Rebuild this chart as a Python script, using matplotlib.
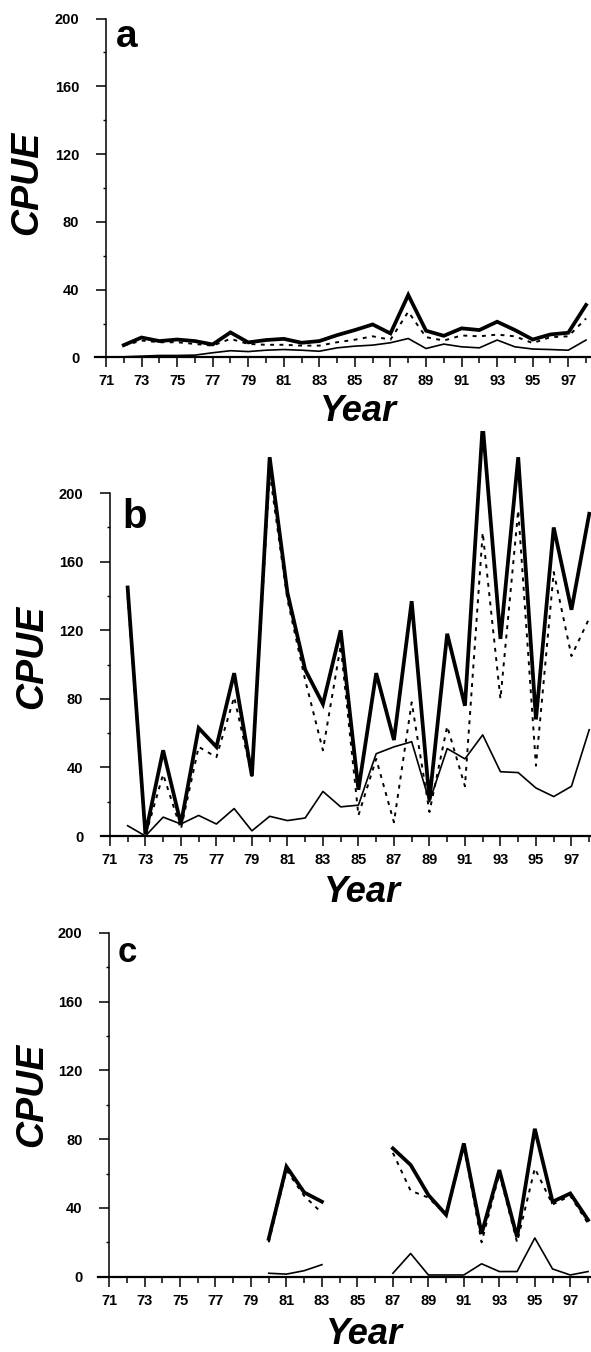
import numpy as np
import matplotlib
matplotlib.use("Agg")
import matplotlib.pyplot as plt
from matplotlib.ticker import FixedLocator

plt.rcParams['font.family'] = ['Liberation Sans', 'DejaVu Sans']

nan = np.nan
years = list(range(72, 99))

# Panel a
a_total = [7.3, 11.8, 9.7, 10.6, 9.7, 7.7, 14.8, 8.9, 10.3, 11.0, 8.7, 9.7, 13.2, 16.2,
           19.5, 14.2, 36.9, 15.8, 12.8, 17.2, 16.2, 21.1, 16.2, 10.6, 13.6, 14.6, 31.0]
a_dotted = [7.0, 10.0, 9.0, 9.0, 8.0, 7.0, 11.0, 8.0, 7.5, 7.5, 7.0, 7.0, 9.0, 10.5,
            12.5, 10.5, 27.0, 12.0, 10.0, 13.0, 12.5, 13.5, 12.5, 8.5, 12.0, 12.5, 23.0]
a_thin = [0.4, 0.8, 1.2, 1.2, 1.4, 2.8, 4.0, 3.5, 4.3, 4.7, 4.3, 3.7, 5.7, 6.7,
          7.3, 8.7, 11.2, 5.3, 7.9, 6.3, 5.7, 10.3, 6.3, 5.0, 4.7, 4.3, 10.3]

# Panel b
b_total = [145, 1, 50, 7, 63, 52, 95, 35, 221, 142, 97, 77, 120, 27,
           95, 56, 137, 21, 118, 76, 240, 115, 221, 68, 180, 132, 188]
b_dotted = [140, 0, 36, 4, 52, 46, 81, 35, 212, 138, 91, 50, 111, 12,
            45, 8, 78, 14, 64, 29, 177, 80, 190, 41, 154, 105, 127]
b_thin = [6, 0, 11, 7, 12, 7, 16, 3, 11.5, 9, 10.5, 26, 17, 18,
          48, 52, 55, 20, 51, 45, 59, 37.5, 37, 28, 23, 29, 62]

# Panel c
c_total = [nan] * 8 + [22, 64, 49, 43.6, nan, nan, nan,
                       74.6, 65, 47.5, 36, 77.5, 25, 62, 23, 86, 43.6, 48.4, 33]
c_dotted = [nan] * 8 + [20, 62, 47, 37, nan, nan, nan,
                        72, 50, 46, 36, 76, 20, 60, 20, 63, 42, 47, 31]
c_thin = [nan] * 8 + [2, 1.5, 3.5, 7, nan, nan, nan,
                      2, 13.5, 1, 1, 1, 7.5, 3, 3, 22.5, 4.5, 1, 3]

xtick_major = list(range(71, 98, 2))
xtick_minor = list(range(72, 99, 2))
ytick_major = [0, 40, 80, 120, 160, 200]
ytick_minor = [20, 60, 100, 140, 180]

W, H = 591, 1352
fig = plt.figure(figsize=(W / 100, H / 100), dpi=100)


def px_rect(left, right, y0, ytop):
    return [left / W, 1 - y0 / H, (right - left) / W, (y0 - ytop) / H]


def px(x, y):
    return x / W, 1 - y / H


panels = [
    dict(rect=px_rect(95.3, 589.6, 357.5, 18.5), xlim=(70.4, 98.2), ylim=(0, 200),
         data=(a_total, a_dotted, a_thin), letter='a', lpos=(116, 47), lsize=28,
         year=(358, 411), cpue=(27.5, 183)),
    dict(rect=px_rect(101, 591, 836, 836 - 236 * 1.714), xlim=(70.5, 98.1), ylim=(0, 236),
         data=(b_total, b_dotted, b_thin), letter='b', lpos=(122, 528), lsize=29,
         year=(362, 892), cpue=(32, 657)),
    dict(rect=px_rect(98.4, 590.7, 1276.7, 932.7), xlim=(70.4, 98.15), ylim=(0, 200),
         data=(c_total, c_dotted, c_thin), letter='c', lpos=(118, 962), lsize=25,
         year=(364, 1334), cpue=(32, 1095)),
]

for p in panels:
    ax = fig.add_axes(p['rect'])
    total, dotted, thin = p['data']
    ax.plot(years, dotted, color='black', lw=1.4, linestyle=(0, (2.0, 2.8)))
    ax.plot(years, thin, color='black', lw=1.2)
    ax.plot(years, total, color='black', lw=2.7, solid_joinstyle='miter')
    ax.set_xlim(*p['xlim'])
    ax.set_ylim(*p['ylim'])
    for s in ['top', 'right']:
        ax.spines[s].set_visible(False)
    ax.spines['left'].set_position(('data', 71))
    ax.spines['left'].set_bounds(0, 200)
    ax.spines['left'].set_linewidth(1.1)
    ax.spines['bottom'].set_linewidth(1.6)
    ax.set_xticks(xtick_major)
    ax.set_xticks(xtick_minor, minor=True)
    ax.set_yticks(ytick_major)
    ax.yaxis.set_minor_locator(FixedLocator(ytick_minor))
    ax.tick_params(axis='x', which='major', direction='out', length=7.2, width=1.1,
                   pad=5, labelsize=10.5)
    ax.tick_params(axis='x', which='minor', direction='out', length=4.5, width=1.1)
    ax.tick_params(axis='y', which='major', direction='out', length=7.2, width=1.1,
                   pad=12, labelsize=10.5)
    ax.tick_params(axis='y', which='minor', direction='out', length=2.2, width=1.0)
    for lab in ax.get_xticklabels() + ax.get_yticklabels():
        lab.set_fontweight('bold')
    ax.patch.set_alpha(0)

    x, y = px(*p['lpos'])
    fig.text(x, y, p['letter'], fontsize=p['lsize'], fontweight='bold',
             ha='left', va='baseline')
    x, y = px(*p['year'])
    fig.text(x, y, 'Year', fontsize=26, fontweight='bold', fontstyle='italic',
             ha='center', va='center')
    x, y = px(*p['cpue'])
    fig.text(x, y, 'CPUE', fontsize=27, fontweight='bold', fontstyle='italic',
             ha='center', va='center', rotation=90)

fig.savefig('out.png', dpi=100)
